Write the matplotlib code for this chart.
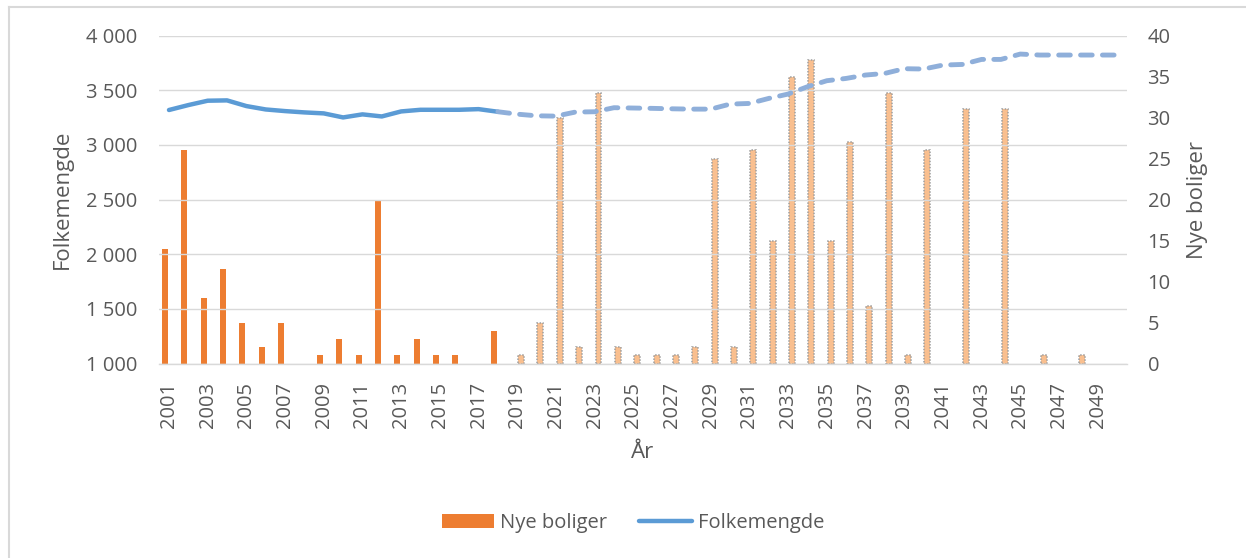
import matplotlib
matplotlib.use("Agg")
import matplotlib.pyplot as plt
from matplotlib.patches import Patch
from matplotlib.lines import Line2D
from matplotlib.ticker import FuncFormatter, MultipleLocator

plt.rcParams['font.family'] = ['Open Sans', 'DejaVu Sans']

# ---- data ----
years = list(range(2001, 2051))
hist_years = list(range(2001, 2019))
proj_years = list(range(2019, 2051))

nye_boliger_hist = [14, 26, 8, 11.5, 5, 2, 5, 0, 1, 3, 1, 20, 1, 3, 1, 1, 0, 4]
nye_boliger_proj = [1, 5, 30, 2, 33, 2, 1, 1, 1, 2, 25, 2, 26, 15, 35, 37, 15, 27,
                    7, 33, 1, 26, 0, 31, 0, 31, 0, 1, 0, 1, 0, 0]

folk_hist = [3320, 3365, 3405, 3408, 3356, 3325, 3310, 3298, 3289, 3252, 3280,
             3261, 3307, 3322, 3322, 3322, 3328, 3304]
folk_proj = [3282, 3267, 3264, 3301, 3304, 3341, 3338, 3335, 3331, 3328, 3328,
             3374, 3380, 3426, 3466, 3533, 3588, 3609, 3640, 3655, 3698, 3695,
             3731, 3737, 3783, 3783, 3832, 3823, 3823, 3823, 3823, 3823]

tick_years = [str(y) for y in range(2001, 2051, 2)]

# ---- styling ----
TXT = '#595959'
GRID = '#D9D9D9'
ORANGE = '#ED7D31'
ORANGE_L = '#F9BF8F'
BLUE = '#5B9BD5'
BLUE_L = '#8FAFDA'

W, H = 1246, 558
fig = plt.figure(figsize=(W / 100, H / 100), dpi=100)
ax = fig.add_axes([159.3 / W, 1 - 363.5 / H, (1126.7 - 159.3) / W, (363.5 - 35.7) / H])
ax2 = ax.twinx()

idx = {y: i for i, y in enumerate(years)}
hx = [idx[y] for y in hist_years]
px = [idx[y] for y in proj_years]

# bars on secondary axis (zero-height bars are not drawn)
bw = 0.31
off = 0.2
h_pairs = [(x, v) for x, v in zip(hx, nye_boliger_hist) if v > 0]
p_pairs = [(x, v) for x, v in zip(px, nye_boliger_proj) if v > 0]
ax2.bar([x - off for x, _ in h_pairs], [v for _, v in h_pairs], width=bw,
        color=ORANGE, zorder=2)
ax2.bar([x + off for x, _ in p_pairs], [v for _, v in p_pairs], width=bw,
        color=ORANGE_L, edgecolor='#9E9E9E', linewidth=1.1,
        linestyle=(0, (1, 1)), zorder=2)

# line on primary axis (drawn above bars)
ax.set_zorder(ax2.get_zorder() + 1)
ax.patch.set_visible(False)
ax.plot(hx, folk_hist, color=BLUE, lw=3.2, solid_capstyle='round',
        solid_joinstyle='round', zorder=3)
ax.plot([hx[-1]] + px, [folk_hist[-1]] + folk_proj, color=BLUE_L, lw=3.5,
        dashes=(2.4, 2.1), dash_capstyle='round', zorder=3)

# axes limits / ticks
ax.set_xlim(-0.5, len(years) - 0.5)
ax.set_ylim(1000, 4000)
ax.yaxis.set_major_locator(MultipleLocator(500))
ax.yaxis.set_major_formatter(FuncFormatter(lambda v, p: f"{int(v):,}".replace(',', ' ')))
ax2.set_ylim(0, 40)
ax2.yaxis.set_major_locator(MultipleLocator(5))

ax.set_xticks([idx[int(t)] for t in tick_years])
ax.set_xticklabels(tick_years, rotation=90)

ax.grid(axis='y', color=GRID, lw=1.0, zorder=0)
ax.set_axisbelow(True)
for a in (ax, ax2):
    for s in a.spines.values():
        s.set_visible(False)
ax.spines['bottom'].set_visible(True)
ax.spines['bottom'].set_color(GRID)
ax.spines['bottom'].set_linewidth(1.0)

ax.tick_params(axis='x', length=0, pad=13, labelsize=14.5, labelcolor=TXT)
ax.tick_params(axis='y', length=0, pad=16, labelsize=14.5, labelcolor=TXT)
ax2.tick_params(axis='y', length=0, pad=15, labelsize=14.5, labelcolor=TXT)

ax.set_ylabel('Folkemengde', fontsize=16, color=TXT)
ax.yaxis.set_label_coords((62 - 159.3) / 967.4, 0.5)
ax.yaxis.label.set_va('center')
ax2.set_ylabel('Nye boliger', fontsize=16, color=TXT)
ax2.yaxis.set_label_coords((1198 - 159.3) / 967.4, 0.5)
ax2.yaxis.label.set_va('center')
ax.set_xlabel('År', fontsize=16, color=TXT)
ax.xaxis.set_label_coords(0.5, -(452 - 363.5) / 327.8)
ax.xaxis.label.set_va('center')

handles = [Patch(facecolor=ORANGE, edgecolor='none'),
           Line2D([0], [0], color=BLUE, lw=3.2, solid_capstyle='round')]
fig.legend(handles, ['Nye boliger', 'Folkemengde'], loc='center',
           bbox_to_anchor=(633 / W, 1 - 523 / H), ncol=2, frameon=False,
           fontsize=14.5, labelcolor=TXT, handlelength=2.6, handletextpad=0.3,
           columnspacing=1.6)

# chart border (left and top visible)
fig.add_artist(Line2D([8.5 / W, 8.5 / W], [0, 1 - 7 / H], color=GRID, lw=1.5,
                      transform=fig.transFigure))
fig.add_artist(Line2D([8.5 / W, 1], [1 - 7 / H, 1 - 7 / H], color=GRID, lw=1.5,
                      transform=fig.transFigure))

fig.savefig('out.png', dpi=100)
